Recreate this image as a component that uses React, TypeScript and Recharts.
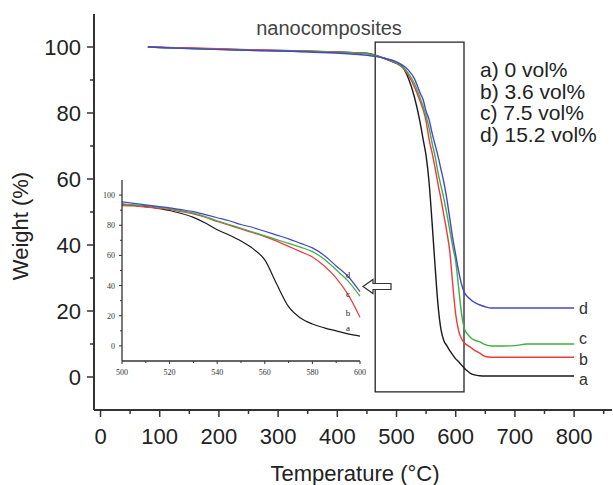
import React from 'react';
import { LineChart, Line, XAxis, YAxis, ReferenceArea } from 'recharts';

// ---- main TGA curves (Temperature °C vs Weight %) ----
const temperature = [80, 150, 250, 350, 450, 480, 500, 510, 520, 530, 540, 545, 550, 555, 560, 565, 570, 575, 580, 585, 590, 595, 600, 605, 610, 615, 620, 625, 630, 640, 650, 660, 680, 700, 720, 760, 800];
const weightA = [100, 99.6, 99.1, 98.7, 98.1, 96.5, 95, 94, 90.5, 85, 77, 72, 67, 59, 47, 34, 22, 14.5, 11, 9.5, 8, 6.7, 5.5, 4.6, 3.6, 2.6, 1.8, 1.1, 0.7, 0.4, 0.3, 0.3, 0.3, 0.3, 0.3, 0.3, 0.3];
const weightB = [100, 99.7, 99.2, 98.8, 98, 96.5, 95, 93.8, 91.5, 88, 83.5, 81, 77.5, 72, 68, 63.5, 58.5, 54, 49, 44, 38, 28, 19, 14, 11.5, 10.3, 9.6, 9, 8.3, 7.3, 6.2, 6, 6, 6, 6, 6, 6];
const weightC = [100, 99.5, 99, 98.7, 98, 96.6, 95.2, 94, 92, 89, 84.5, 82, 79, 75.5, 71, 67, 62, 58, 54, 49.5, 44.5, 39.5, 35, 27, 19, 14.5, 13, 12, 11.3, 10.7, 9.8, 9.4, 9.4, 9.5, 10, 10, 10];
const weightD = [100, 99.5, 99, 98.5, 97.5, 96.6, 95.5, 94.5, 93, 90.5, 86, 84, 80.5, 78, 74, 70.5, 67, 63, 59, 54, 48, 42, 37, 32, 28, 25.5, 24.3, 23.5, 22.8, 21.9, 21.3, 20.9, 20.9, 20.9, 20.9, 20.9, 20.9];

// ---- inset (500–600 °C) ----
const insetTemperature = [500, 505, 510, 515, 520, 525, 530, 535, 540, 545, 550, 555, 560, 565, 570, 575, 580, 585, 590, 595, 600];
const insetA = [94, 93.2, 92.3, 91.2, 89.8, 87.8, 85.2, 81.5, 77, 73.5, 69.5, 64.5, 57, 41, 26, 18.5, 14.5, 12, 10, 8, 6.5];
const insetB = [93, 92.8, 92, 91.3, 90.5, 89, 87.5, 85.3, 82.5, 80, 77.5, 75, 72.5, 69.5, 66, 62.5, 59, 53, 45, 34, 19];
const insetC = [94, 93.5, 93, 92, 91, 89.5, 88, 85.8, 83, 80.5, 78, 75.5, 73, 70.5, 68, 65.5, 62.5, 57.5, 50.5, 43, 33];
const insetD = [95.5, 94.5, 93.5, 92.5, 91.5, 90.3, 89, 87, 85, 83, 80.5, 78.5, 76, 73.5, 71, 68, 65, 60, 53, 46, 36];

const seriesKeys = ['a', 'b', 'c', 'd'];
const seriesColors = ['#1a1a1a', '#f03a3a', '#3cb043', '#4646c8'];
const legendLines = ['a) 0 vol%', 'b) 3.6 vol%', 'c) 7.5 vol%', 'd) 15.2 vol%'];
const boxTitle = 'nanocomposites';
const xTitle = 'Temperature (°C)';
const yTitle = 'Weight (%)';

const mainXTicks = [0, 50, 100, 150, 200, 250, 300, 350, 400, 450, 500, 550, 600, 650, 700, 750, 800, 850];
const mainYTicks = [0, 10, 20, 30, 40, 50, 60, 70, 80, 90, 100];
const insetXTicks = [500, 510, 520, 530, 540, 550, 560, 570, 580, 590, 600];
const insetYTicks = [0, 10, 20, 30, 40, 50, 60, 70, 80, 90, 100];
const zoomBox = { x1: 464, x2: 614, y1: -4.5, y2: 101.5 };

const mainData = temperature.map((t, i) => ({ t, a: weightA[i], b: weightB[i], c: weightC[i], d: weightD[i] }));
const insetData = insetTemperature.map((t, i) => ({ t, a: insetA[i], b: insetB[i], c: insetC[i], d: insetD[i] }));

const AX = '#333';
const SANS = '"Liberation Sans", Arial, sans-serif';
const SERIF = '"Liberation Serif", "Times New Roman", serif';

const MainXTick = (p: any) => {
  const v = p.payload.value;
  const major = v % 100 === 0;
  return (
    <g>
      <line x1={p.x} x2={p.x} y1={p.y} y2={p.y + (major ? 7 : 4)} stroke={AX} strokeWidth={1.5} />
      {major && v <= 800 ? (
        <text x={p.x} y={p.y + 34} textAnchor="middle" fontFamily={SANS} fontSize={22} fill="#222">{v}</text>
      ) : null}
    </g>
  );
};
const MainYTick = (p: any) => {
  const v = p.payload.value;
  const major = v % 20 === 0;
  return (
    <g>
      <line x1={p.x - (major ? 7 : 4)} x2={p.x} y1={p.y} y2={p.y} stroke={AX} strokeWidth={1.5} />
      {major ? (
        <text x={p.x - 13} y={p.y + 8} textAnchor="end" fontFamily={SANS} fontSize={22} fill="#222">{v}</text>
      ) : null}
    </g>
  );
};
const InsetXTick = (p: any) => {
  const v = p.payload.value;
  const major = v % 20 === 0;
  return (
    <g>
      <line x1={p.x} x2={p.x} y1={p.y} y2={p.y + (major ? 3 : 2)} stroke={AX} strokeWidth={1} />
      {major ? (
        <text x={p.x} y={p.y + 14} textAnchor="middle" fontFamily={SERIF} fontSize={8} fill="#333">{v}</text>
      ) : null}
    </g>
  );
};
const InsetYTick = (p: any) => {
  const v = p.payload.value;
  const major = v % 20 === 0;
  return (
    <g>
      <line x1={p.x - (major ? 3 : 2)} x2={p.x} y1={p.y} y2={p.y} stroke={AX} strokeWidth={1} />
      {major ? (
        <text x={p.x - 7} y={p.y + 3} textAnchor="end" fontFamily={SERIF} fontSize={8} fill="#333">{v}</text>
      ) : null}
    </g>
  );
};

const mainLabelDy = [3, 1.5, -6, 0];
const mainEndLabel = (key: string, idx: number, last: number) => (p: any) => {
  if (p.index !== last) return <g key={`${key}-${p.index}`} />;
  return (
    <text key={`${key}-end`} x={p.x + 5} y={p.y + mainLabelDy[idx] + 6} fontFamily={SANS} fontSize={16} fill="#333">{key}</text>
  );
};
const insetLabelDy = [-8, -4, -2, -17];
const insetEndLabel = (key: string, idx: number, last: number) => (p: any) => {
  if (p.index !== last) return <g key={`${key}-${p.index}`} />;
  return (
    <text key={`${key}-end`} x={p.x - 12} y={p.y + insetLabelDy[idx] + 3} textAnchor="middle" fontFamily={SERIF} fontSize={9} fill="#222">{key}</text>
  );
};

export default function App() {
  return (
    <div style={{ position: 'absolute', left: 0, top: 0, width: 613, height: 485, background: '#fff' }}>
      <div style={{ position: 'absolute', left: 0, top: 0 }}>
        <LineChart width={613} height={485} data={mainData} margin={{ top: 14, right: 1, bottom: 0, left: 0 }}>
          <XAxis dataKey="t" type="number" domain={[-11, 864]} ticks={mainXTicks} interval={0} tick={<MainXTick />} tickSize={0} tickMargin={0} tickLine={false} axisLine={{ stroke: AX, strokeWidth: 2 }} height={75} allowDataOverflow />
          <XAxis xAxisId="top" orientation="top" dataKey="t" type="number" domain={[-11, 864]} tick={false} tickLine={false} axisLine={{ stroke: AX, strokeWidth: 2 }} height={0} />
          <YAxis type="number" domain={[-10, 110]} ticks={mainYTicks} interval={0} tick={<MainYTick />} tickSize={0} tickMargin={0} tickLine={false} axisLine={{ stroke: AX, strokeWidth: 2 }} width={94} allowDataOverflow />
          <YAxis yAxisId="right" orientation="right" type="number" domain={[-10, 110]} tick={false} tickLine={false} axisLine={{ stroke: '#ccc', strokeWidth: 1 }} width={0} />
          <ReferenceArea x1={zoomBox.x1} x2={zoomBox.x2} y1={zoomBox.y1} y2={zoomBox.y2} fill="none" fillOpacity={0} stroke="#222" strokeWidth={1.3} ifOverflow="visible" />
          {seriesKeys.map((k, i) => (
            <Line key={k} dataKey={k} type="monotone" stroke={seriesColors[i]} strokeWidth={1.4} dot={false} isAnimationActive={false} label={mainEndLabel(k, i, temperature.length - 1)} />
          ))}
        </LineChart>
      </div>
      <div style={{ position: 'absolute', left: 95, top: 170 }}>
        <LineChart width={280} height={215} data={insetData} margin={{ top: 10, right: 15, bottom: 0, left: 0 }}>
          <XAxis dataKey="t" type="number" domain={[500, 600]} ticks={insetXTicks} interval={0} tick={<InsetXTick />} tickSize={0} tickMargin={0} tickLine={false} axisLine={{ stroke: AX, strokeWidth: 1.3 }} height={24} />
          <XAxis xAxisId="top" orientation="top" dataKey="t" type="number" domain={[500, 600]} tick={false} tickLine={false} axisLine={{ stroke: AX, strokeWidth: 1.3 }} height={0} />
          <YAxis type="number" domain={[-10, 110]} ticks={insetYTicks} interval={0} tick={<InsetYTick />} tickSize={0} tickMargin={0} tickLine={false} axisLine={{ stroke: AX, strokeWidth: 1.3 }} width={27} />
          <YAxis yAxisId="right" orientation="right" type="number" domain={[-10, 110]} tick={false} tickLine={false} axisLine={{ stroke: AX, strokeWidth: 1.3 }} width={0} />
          {seriesKeys.map((k, i) => (
            <Line key={k} dataKey={k} type="monotone" stroke={seriesColors[i]} strokeWidth={1.2} dot={false} isAnimationActive={false} label={insetEndLabel(k, i, insetTemperature.length - 1)} />
          ))}
        </LineChart>
      </div>
      <svg width={613} height={485} style={{ position: 'absolute', left: 0, top: 0, pointerEvents: 'none' }}>
        <text x={329} y={35} textAnchor="middle" fontFamily={SANS} fontSize={20} fill="#444">{boxTitle}</text>
        {legendLines.map((s, i) => (
          <text key={s} x={480} y={77 + i * 21.7} fontFamily={SANS} fontSize={21} fill="#222">{s}</text>
        ))}
        <text x={20} y={226} transform="rotate(-90 20 226)" textAnchor="middle" dominantBaseline="central" fontFamily={SANS} fontSize={22} fill="#222">{yTitle}</text>
        <text x={355} y={481} textAnchor="middle" fontFamily={SANS} fontSize={22} fill="#222">{xTitle}</text>
        <path d="M363,286.5 L373,279.5 L373,283.5 L391,283.5 L391,289.5 L373,289.5 L373,293.5 Z" fill="#fff" stroke="#333" strokeWidth={1.2} />
      </svg>
    </div>
  );
}
